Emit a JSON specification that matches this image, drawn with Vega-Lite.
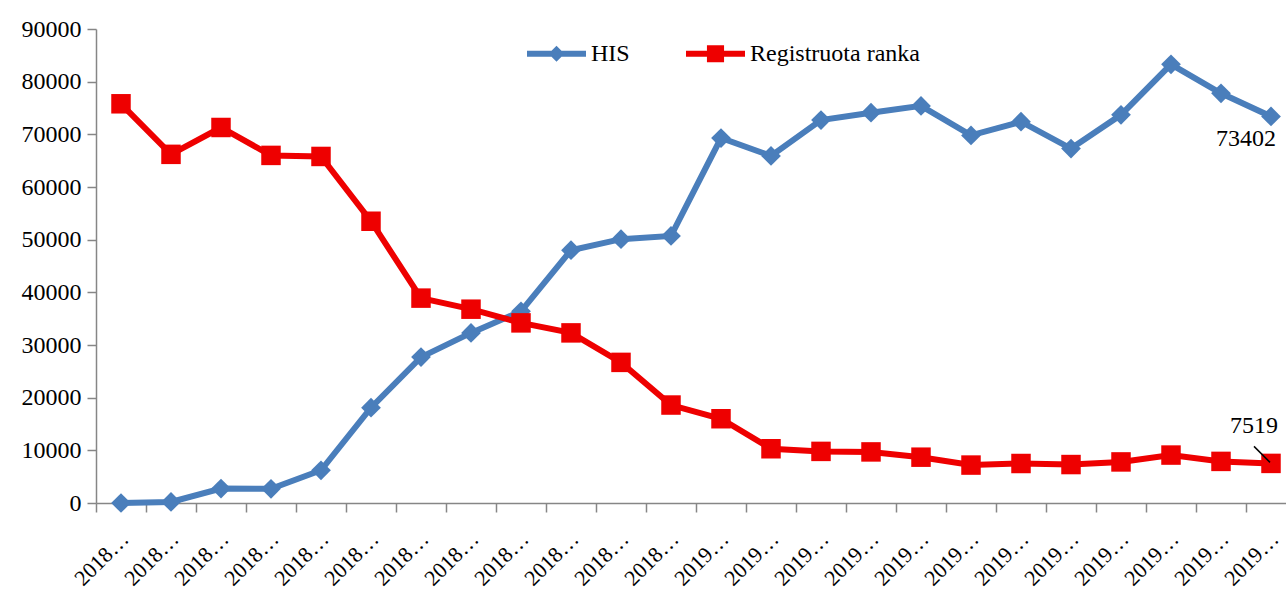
{
  "$schema": "https://vega.github.io/schema/vega-lite/v6.json",
  "autosize": "none",
  "padding": {"left": 96, "top": 29, "right": 0, "bottom": 89},
  "width": 1200,
  "height": 474,
  "background": "white",
  "config": {
    "view": {"stroke": null},
    "font": "Liberation Serif",
    "axis": {"labelFont": "Liberation Serif", "labelFontSize": 24, "labelColor": "black", "domainColor": "#868686", "tickColor": "#868686", "domainWidth": 1.5, "tickWidth": 1.5, "tickSize": 9, "grid": false, "title": null},
    "legend": {"labelFont": "Liberation Serif", "labelFontSize": 24, "labelColor": "black", "labelLimit": 400, "symbolOpacity": 1}
  },
  "data": {"values": [
    {"m": "2018-01", "s": "HIS", "v": 0},
    {"m": "2018-02", "s": "HIS", "v": 200},
    {"m": "2018-03", "s": "HIS", "v": 2750},
    {"m": "2018-04", "s": "HIS", "v": 2700},
    {"m": "2018-05", "s": "HIS", "v": 6200},
    {"m": "2018-06", "s": "HIS", "v": 18100},
    {"m": "2018-07", "s": "HIS", "v": 27700},
    {"m": "2018-08", "s": "HIS", "v": 32300},
    {"m": "2018-09", "s": "HIS", "v": 36400},
    {"m": "2018-10", "s": "HIS", "v": 48000},
    {"m": "2018-11", "s": "HIS", "v": 50100},
    {"m": "2018-12", "s": "HIS", "v": 50700},
    {"m": "2019-01", "s": "HIS", "v": 69300},
    {"m": "2019-02", "s": "HIS", "v": 65900},
    {"m": "2019-03", "s": "HIS", "v": 72700},
    {"m": "2019-04", "s": "HIS", "v": 74100},
    {"m": "2019-05", "s": "HIS", "v": 75400},
    {"m": "2019-06", "s": "HIS", "v": 69800},
    {"m": "2019-07", "s": "HIS", "v": 72400},
    {"m": "2019-08", "s": "HIS", "v": 67300},
    {"m": "2019-09", "s": "HIS", "v": 73700},
    {"m": "2019-10", "s": "HIS", "v": 83300},
    {"m": "2019-11", "s": "HIS", "v": 77800},
    {"m": "2019-12", "s": "HIS", "v": 73402},
    {"m": "2018-01", "s": "Registruota ranka", "v": 75800},
    {"m": "2018-02", "s": "Registruota ranka", "v": 66200},
    {"m": "2018-03", "s": "Registruota ranka", "v": 71300},
    {"m": "2018-04", "s": "Registruota ranka", "v": 66000},
    {"m": "2018-05", "s": "Registruota ranka", "v": 65800},
    {"m": "2018-06", "s": "Registruota ranka", "v": 53500},
    {"m": "2018-07", "s": "Registruota ranka", "v": 38900},
    {"m": "2018-08", "s": "Registruota ranka", "v": 36800},
    {"m": "2018-09", "s": "Registruota ranka", "v": 34200},
    {"m": "2018-10", "s": "Registruota ranka", "v": 32300},
    {"m": "2018-11", "s": "Registruota ranka", "v": 26700},
    {"m": "2018-12", "s": "Registruota ranka", "v": 18600},
    {"m": "2019-01", "s": "Registruota ranka", "v": 16000},
    {"m": "2019-02", "s": "Registruota ranka", "v": 10300},
    {"m": "2019-03", "s": "Registruota ranka", "v": 9800},
    {"m": "2019-04", "s": "Registruota ranka", "v": 9700},
    {"m": "2019-05", "s": "Registruota ranka", "v": 8700},
    {"m": "2019-06", "s": "Registruota ranka", "v": 7200},
    {"m": "2019-07", "s": "Registruota ranka", "v": 7500},
    {"m": "2019-08", "s": "Registruota ranka", "v": 7300},
    {"m": "2019-09", "s": "Registruota ranka", "v": 7800},
    {"m": "2019-10", "s": "Registruota ranka", "v": 9100},
    {"m": "2019-11", "s": "Registruota ranka", "v": 7900},
    {"m": "2019-12", "s": "Registruota ranka", "v": 7519}
  ]},
  "encoding": {
    "x": {"field": "m", "type": "ordinal", "sort": null,
      "scale": {"type": "band", "paddingInner": 0, "paddingOuter": 0},
      "axis": {"labelAngle": -45, "labelAlign": "right", "labelBaseline": "middle", "labelFont": "Liberation Serif", "labelFontSize": 22, "labelPadding": 23, "bandPosition": 0, "labelOffset": 4, "labelExpr": "slice(datum.label, 0, 4) + '…'", "labelOverlap": false}},
    "y": {"field": "v", "type": "quantitative",
      "scale": {"domain": [0, 90000], "nice": false},
      "axis": {"values": [0, 10000, 20000, 30000, 40000, 50000, 60000, 70000, 80000, 90000], "format": "d", "labelFont": "Liberation Serif", "labelFontSize": 24, "labelPadding": 6}},
    "color": {"field": "s", "type": "nominal",
      "scale": {"domain": ["HIS", "Registruota ranka"], "range": ["#4a7ebb", "#ee0000"]},
      "legend": {"orient": "none", "legendX": 431, "legendY": -5, "direction": "horizontal", "title": null,
        "padding": 0, "symbolSize": 3481, "labelOffset": 5, "columnPadding": 56,
        "labelFont": "Liberation Serif", "labelFontSize": 24, "labelColor": "black", "labelLimit": 400,
        "symbolStrokeWidth": 0, "symbolOpacity": 1}}
  },
  "layer": [
    {"mark": {"type": "line", "strokeWidth": 6}},
    {"transform": [{"filter": "datum.v < 0"}],
     "mark": {"type": "point", "filled": true, "opacity": 1},
     "encoding": {"shape": {"field": "s", "type": "nominal",
       "scale": {"domain": ["HIS", "Registruota ranka"], "range": ["M-1,-0.1H1V0.1H-1Z M0,-0.27L0.27,0L0,0.27L-0.27,0Z", "M-1,-0.1H1V0.1H-1Z M-0.29,-0.29H0.29V0.29H-0.29Z"]},
       "legend": {"orient": "none", "legendX": 431, "legendY": -5, "direction": "horizontal", "title": null,
        "padding": 0, "symbolSize": 3481, "labelOffset": 5, "columnPadding": 56,
        "labelFont": "Liberation Serif", "labelFontSize": 24, "labelColor": "black", "labelLimit": 400,
        "symbolStrokeWidth": 0, "symbolOpacity": 1}}}},
    {"transform": [{"filter": "datum.s === 'HIS'"}],
     "mark": {"type": "point", "filled": true, "opacity": 1, "shape": "diamond", "size": 390}},
    {"transform": [{"filter": "datum.s === 'Registruota ranka'"}],
     "mark": {"type": "point", "filled": true, "opacity": 1, "shape": "square", "size": 380}},
    {"transform": [{"filter": "datum.m === '2019-12' && datum.s === 'HIS'"}],
     "mark": {"type": "text", "align": "right", "baseline": "middle", "dx": 5, "dy": 23, "fontSize": 24, "font": "Liberation Serif"},
     "encoding": {"text": {"field": "v", "type": "quantitative", "format": "d"}, "color": {"value": "black"}}},
    {"transform": [{"filter": "datum.m === '2019-12' && datum.s === 'Registruota ranka'"}],
     "mark": {"type": "text", "align": "right", "baseline": "middle", "dx": 7, "dy": -37, "fontSize": 24, "font": "Liberation Serif"},
     "encoding": {"text": {"field": "v", "type": "quantitative", "format": "d"}, "color": {"value": "black"}}},
    {"transform": [{"filter": "datum.m === '2019-12' && datum.s === 'Registruota ranka'"}],
     "mark": {"type": "rule", "strokeWidth": 1.5, "xOffset": -17, "x2Offset": -1, "yOffset": -17, "y2Offset": -1},
     "encoding": {"x2": {"field": "m"}, "y2": {"field": "v"}, "color": {"value": "black"}}}
  ]
}
